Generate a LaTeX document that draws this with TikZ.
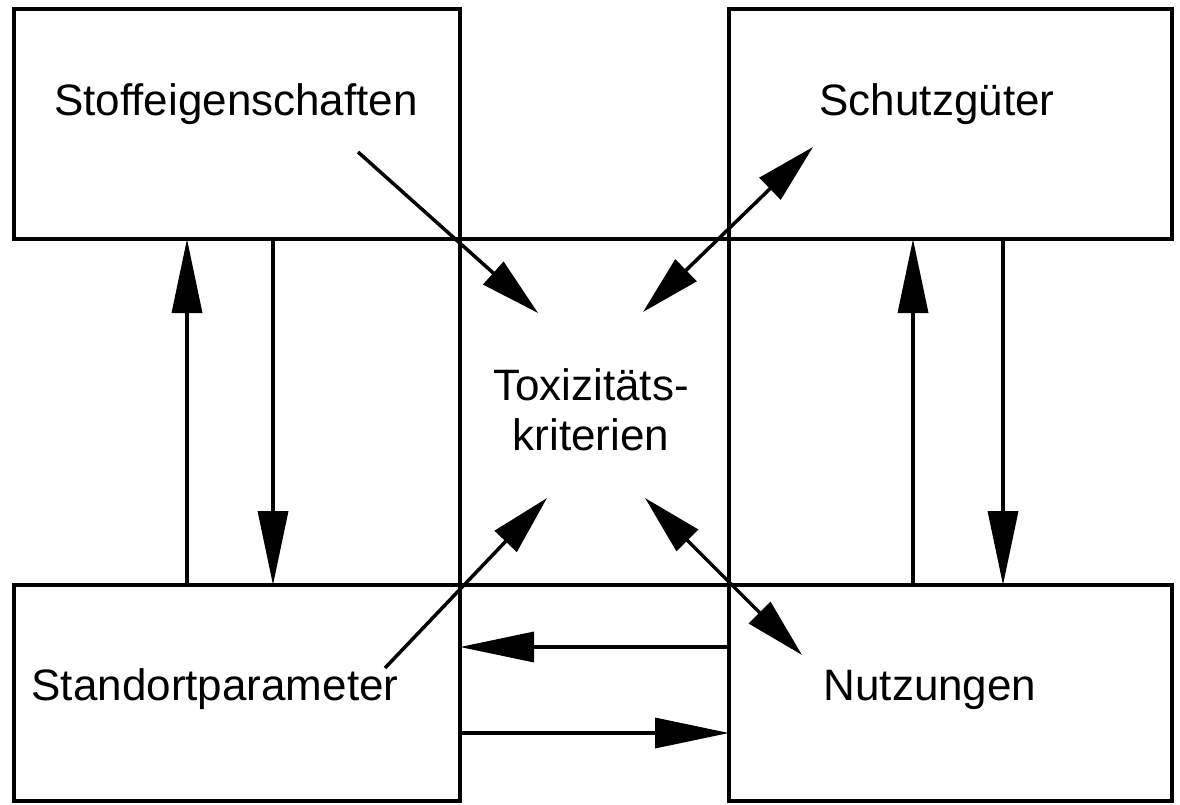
\documentclass[tikz,border=0pt]{standalone}
\usepackage{fontspec}
\setmainfont{Liberation Sans}
\usetikzlibrary{arrows.meta}
\begin{document}
\begin{tikzpicture}[x=1pt,y=-1pt,
  box/.style={draw, line width=4pt, rectangle, inner sep=0pt, outer sep=0pt, anchor=north west},
  lbl/.style={font=\fontsize{44}{50}\selectfont, anchor=base, inner sep=0pt},
  arr/.style={line width=3.5pt, -{Triangle[length=74pt,width=30pt]}},
  sarr/.style={line width=3.5pt, -{Triangle[length=60pt,width=30pt]}},
  darr/.style={line width=3.5pt, {Triangle[length=60pt,width=30pt]}-{Triangle[length=60pt,width=30pt]}}]
\useasboundingbox (0,0) rectangle (1180,805);

% five boxes
\node[box, minimum width=446pt, minimum height=230pt] (stoff) at (14,9) {};
\node[box, minimum width=443pt, minimum height=230pt] (schutz) at (729,9) {};
\node[box, minimum width=446pt, minimum height=216pt] (stand) at (14,585) {};
\node[box, minimum width=443pt, minimum height=216pt] (nutz) at (729,585) {};
\node[box, minimum width=269pt, minimum height=346pt] (tox) at (460,239) {};

% labels
\node[lbl] (lstoff) at (236,116) {Stoffeigenschaften};
\node[lbl] (lschutz) at (937,116) {Schutzgüter};
\node[lbl] (ltox1) at (591,400) {Toxizitäts-};
\node[lbl] (ltox2) at (591,450) {kriterien};
\node[lbl] (lstand) at (215,700) {Standortparameter};
\node[lbl] (lnutz) at (930,700) {Nutzungen};

% vertical arrows between the side boxes
\draw[arr] ([xshift=173pt]stand.north west) -- ([xshift=173pt]stoff.south west);
\draw[arr] ([xshift=259pt]stoff.south west) -- ([xshift=259pt]stand.north west);
\draw[arr] ([xshift=184pt]nutz.north west) -- ([xshift=184pt]schutz.south west);
\draw[arr] ([xshift=274pt]schutz.south west) -- ([xshift=274pt]nutz.north west);

% horizontal arrows between the lower boxes
\draw[arr] ([yshift=-62pt]nutz.north west) -- ([yshift=-62pt]stand.north east);
\draw[arr] ([yshift=-148pt]stand.north east) -- ([yshift=-148pt]nutz.north west);

% diagonal arrows to and from the centre
\coordinate (a1s) at (358,152); \coordinate (a1e) at (538,313);
\coordinate (a2s) at (643,312); \coordinate (a2e) at (813,147);
\coordinate (a3s) at (385,668); \coordinate (a3e) at (547,498);
\coordinate (a4s) at (645,498); \coordinate (a4e) at (802,655);
\draw[sarr] (a1s) -- (a1e);
\draw[darr] (a2s) -- (a2e);
\draw[sarr] (a3s) -- (a3e);
\draw[darr] (a4s) -- (a4e);
\end{tikzpicture}
\end{document}
